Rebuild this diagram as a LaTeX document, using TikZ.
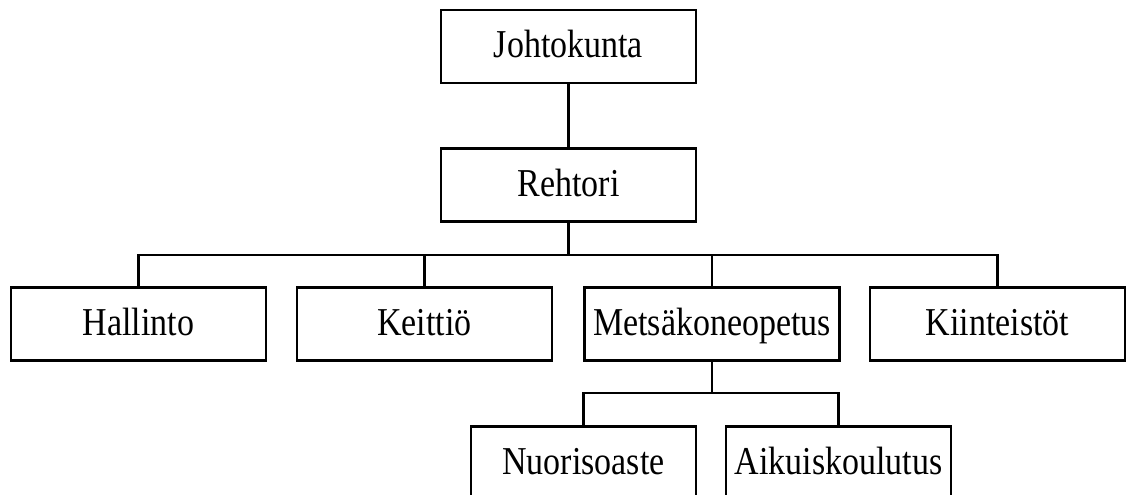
\documentclass[tikz,border=0pt]{standalone}
\usepackage{fontspec}
\setmainfont{Liberation Serif}[FakeStretch=0.86]
\begin{document}
\begin{tikzpicture}[x=1pt,y=-1pt,
  box/.style={draw, line width=2.2pt, minimum width=255pt, inner sep=0pt,
    text height=48pt, text depth=25pt, font=\fontsize{39.5}{45}\selectfont},
  smallbox/.style={box, minimum width=225pt},
  link/.style={line width=2.2pt}]
\useasboundingbox (0,0) rectangle (1128,495);
\clip (0,0) rectangle (1128,495);
\node[box] (J) at (568.5,46.5) {Johtokunta};
\node[box] (R) at (568.5,185) {Rehtori};
\node[box] (H) at (138.5,324) {Hallinto};
\node[box] (K) at (424.5,324) {Keittiö};
\node[box] (M) at (712,324) {Metsäkoneopetus};
\node[box] (Ki) at (997.5,324) {Kiinteistöt};
\node[smallbox] (N) at (583.5,463) {Nuorisoaste};
\node[smallbox] (A) at (838.5,463) {Aikuiskoulutus};
\coordinate (b1) at (568.5,255);
\coordinate (b2) at (712,393);
\draw[link] (J.south) -- (R.north);
\draw[link] (R.south) -- (b1);
\draw[link] (H.north) |- (b1) -| (Ki.north);
\draw[link] (K.north) -- (K.north |- b1);
\draw[link] (M.north) -- (M.north |- b1);
\draw[link] (M.south) -- (b2);
\draw[link] (N.north) |- (b2) -| (A.north);
\end{tikzpicture}
\end{document}
